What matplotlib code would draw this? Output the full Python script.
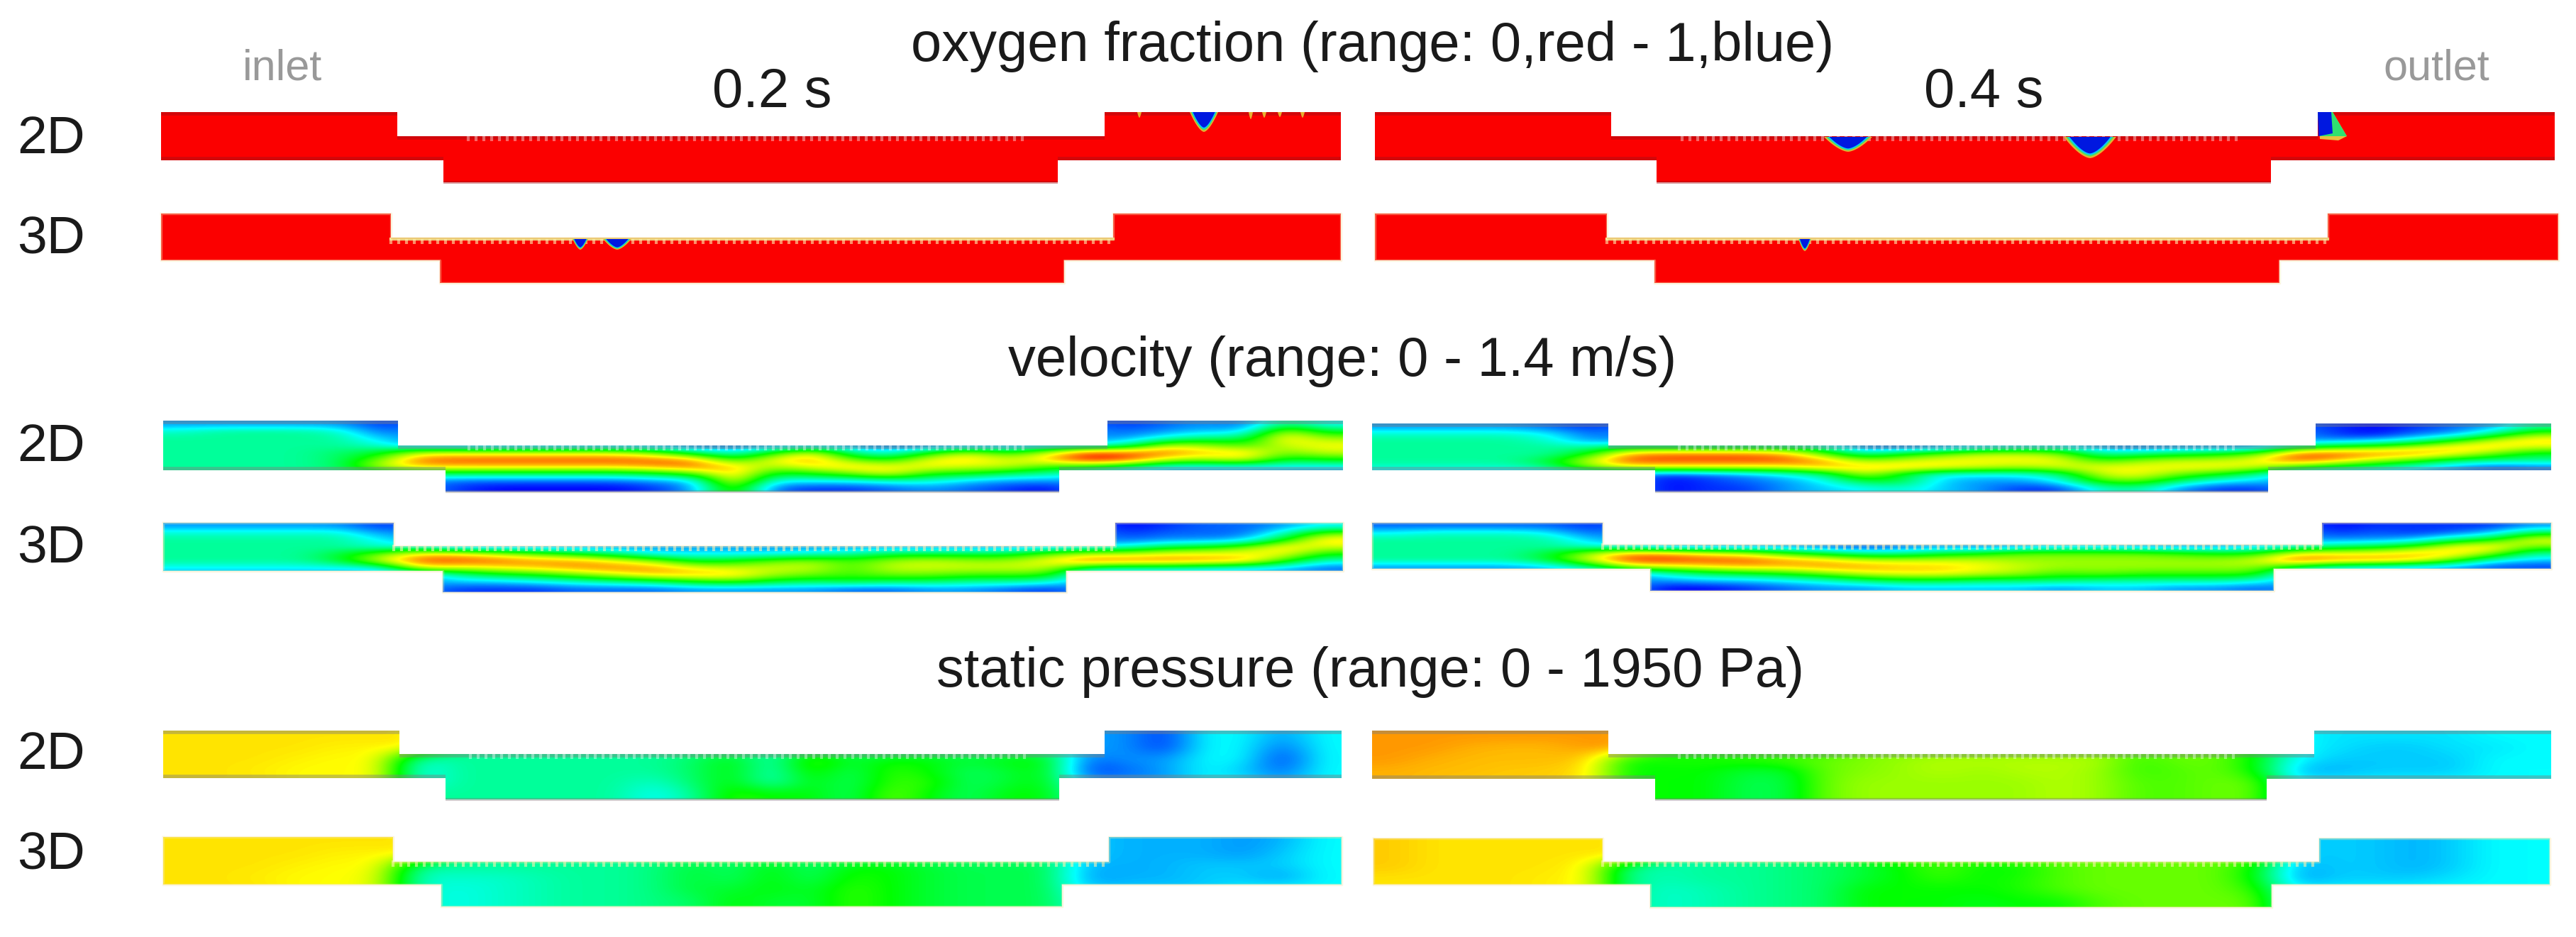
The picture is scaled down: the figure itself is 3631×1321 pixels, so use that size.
"""CFD contour comparison: 2D vs 3D channel, oxygen / velocity / pressure."""
import matplotlib
matplotlib.use('Agg')
import matplotlib.pyplot as plt
from matplotlib.colors import LinearSegmentedColormap
from matplotlib.patches import Polygon
import numpy as np

# field values, 0 = blue, 5 = cyan, 10 = green, 15 = yellow, 20 = red
vel_2d_02 = [
    [3, 3, 3, 3, 3, 1] + [2] * 18 + [1, 2, 3, 2, 8, 5],
    [6, 7, 7, 7, 6, 2] + [3] * 18 + [2, 3, 4, 4, 14, 9],
    [7, 7, 7, 7, 7, 4] + [3] * 18 + [3, 6, 8, 8, 16, 13],
    [7, 7, 7, 7, 7, 6, 3, 3, 3, 3, 3, 3, 3, 2, 2, 3, 4, 3, 2, 2, 3, 3, 4, 5, 7, 14, 13, 11, 14, 15],
    [7, 7, 7, 7, 8, 9, 14, 14, 14, 14, 14, 14, 12, 8, 5, 10, 15, 7, 5, 10, 14, 10, 14, 19, 18, 18, 16, 16, 12, 14],
    [7, 7, 7, 7, 8, 12, 18, 18.5, 18.5, 18.5, 18.5, 18.5, 18, 17, 10, 15, 17, 12, 10, 15, 16, 14, 16, 20, 19, 14, 13, 15, 9, 10],
    [7, 7, 7, 7, 8, 14, 16, 16, 16, 16, 16, 16, 17, 18, 16, 13, 15, 16, 15, 15, 14, 14, 11, 10, 8, 5, 5, 5, 5, 5],
    [7, 7, 7, 7, 7, 7, 8, 8, 8, 8, 8, 8, 9, 11, 17, 9, 10, 12, 15, 10, 10, 8, 7, 5, 3, 3, 3, 3, 3, 3],
    [3] * 7 + [2, 2, 2, 2, 2, 3, 4, 16, 5, 5, 5, 6, 6, 4, 3, 3] + [3] * 7,
    [3] * 7 + [1, 0, 0, 0, 0, 1, 3, 13, 2, 1, 1, 2, 3, 2, 1, 0] + [3] * 7,
]
vel_3d_02 = [
    [3, 3, 3, 3, 3, 1] + [2] * 18 + [0, 1, 2, 2, 3, 5],
    [6, 6, 6, 6, 6, 3] + [3] * 18 + [1, 2, 2, 2, 6, 12],
    [7, 7, 7, 7, 7, 5] + [3] * 18 + [2, 3, 3, 4, 10, 16],
    [7, 7, 7, 7, 7, 6, 6, 3, 3, 3, 3, 3, 3, 3, 3, 3, 3, 3, 3, 3, 3, 3, 4, 5, 6, 9, 10, 12, 16, 14],
    [7, 7, 7, 7, 9, 12, 16, 16, 14, 12, 10, 8, 5, 5, 5, 5, 6, 7, 9, 9, 9, 9, 12, 14, 14, 15, 15, 15, 15, 10],
    [7, 7, 7, 7, 9, 14, 18.5, 18.5, 18, 17, 17, 15, 13, 9, 10, 12, 13, 11, 13, 14, 13, 13, 15, 18, 17.5, 17.5, 17, 16.5, 11, 6],
    [5, 5, 5, 5, 5, 5, 15, 14, 15, 16, 17, 17.5, 17, 15, 14, 14, 14, 11, 14, 14, 14, 14, 14, 8, 7, 7, 6, 5, 4, 2],
    [3] * 7 + [7, 9, 10, 12, 14, 16, 16, 16, 13, 12, 11, 12, 12, 11, 11, 11] + [3] * 7,
    [3] * 7 + [4, 4, 5, 6, 7, 8, 10, 11, 9, 8, 9, 8, 8, 7, 7, 6] + [3] * 7,
    [3] * 7 + [1, 1, 1, 2, 2, 2, 3, 3, 3, 3, 2, 2, 3, 3, 2, 1] + [3] * 7,
]
vel_2d_04 = [
    [3, 3, 3, 3, 2, 1] + [2] * 18 + [1, 0, 1, 2, 3, 7],
    [6, 6, 6, 6, 5, 2] + [3] * 18 + [1, 0, 2, 3, 7, 12],
    [7, 7, 7, 7, 6, 3] + [3] * 18 + [3, 4, 6, 10, 14, 16],
    [7, 7, 7, 7, 7, 7, 9, 9, 9, 9, 9, 7, 2, 2, 3, 5, 6, 6, 3, 2, 3, 3, 3, 9, 11, 12, 14, 16, 16, 14],
    [7, 7, 7, 7, 7, 10, 17, 18, 18, 18, 17, 12, 7, 10, 12, 14, 14, 13, 7, 8, 9, 10, 12, 18.5, 18.5, 17.5, 17, 15, 12, 9],
    [7, 7, 7, 7, 9, 14, 18.5, 18.5, 18.5, 18.5, 18.5, 17, 13, 14, 15, 15, 15, 15, 11, 13, 14, 14, 15, 18, 16, 13, 11, 8, 7, 7],
    [6, 6, 6, 6, 7, 12, 14, 14, 14, 14, 14, 16, 16, 16, 15, 14, 13, 14, 15, 15, 15, 15, 14, 10, 8, 7, 5, 3, 1, 2],
    [3] * 7 + [1, 2, 3, 5, 7, 14, 9, 5, 5, 5, 7, 14, 15, 12, 10, 7] + [3] * 7,
    [3] * 7 + [0, 1, 2, 3, 5, 9, 9, 4, 3, 3, 5, 11, 12, 8, 5, 4] + [3] * 7,
    [3] * 7 + [0, 1, 1, 3, 4, 5, 6, 4, 3, 1, 1, 6, 7, 3, 1, 1] + [3] * 7,
]
vel_3d_04 = [
    [2, 2, 2, 2, 2, 1] + [2] * 18 + [0, 1, 1, 1, 1, 3],
    [5, 6, 6, 6, 5, 2] + [3] * 18 + [1, 2, 1, 2, 4, 9],
    [7, 7, 7, 7, 7, 4] + [3] * 18 + [3, 3, 4, 8, 10, 15],
    [7, 7, 7, 7, 7, 6, 5, 3, 3, 3, 3, 2, 1, 2, 3, 2, 3, 4, 4, 3, 3, 3, 4, 6, 8, 9, 11, 15, 16, 12],
    [7, 7, 7, 7, 9, 13, 17, 17, 15, 14, 11, 9, 7, 7, 9, 10, 12, 12, 12, 12, 11, 10, 10, 15, 15, 15, 16, 16, 13, 7],
    [7, 7, 7, 7, 9, 14, 19, 19, 18.5, 18.5, 17, 16, 14, 14, 14, 14, 13, 13, 13, 13, 13, 13, 14, 18.5, 17, 17, 16, 12, 6, 4],
    [3, 3, 3, 3, 4, 7, 13, 14, 15, 16, 16, 17, 17, 16, 16, 15, 14, 13, 13, 13, 13, 13, 13, 9, 6, 5, 4, 3, 1, 1],
    [3] * 7 + [6, 8, 9, 10, 12, 14, 15, 15, 14, 13, 11, 12, 11, 11, 11, 11] + [3] * 7,
    [3] * 7 + [3, 4, 4, 5, 6, 8, 9, 9, 8, 8, 8, 7, 7, 7, 7, 6] + [3] * 7,
    [3] * 7 + [0, 0, 1, 2, 3, 3, 4, 4, 4, 4, 3, 4, 4, 3, 3, 2] + [3] * 7,
]
pres_2d_02 = [
    [15.5, 15.5, 15.5, 15.5, 15.5, 15.5, 15.5, 7, 7, 7, 7, 7, 7, 7, 7, 7, 7, 7, 7, 7, 7, 7, 7, 3, 3, 1, 5, 5, 3, 5],
    [15.5, 15.5, 15.5, 15.5, 15.2, 15.2, 15.2, 7, 7, 7, 7, 7, 7, 7, 7, 7, 7, 7, 7, 7, 7, 7, 7, 3, 3, 1, 5, 5, 2, 5],
    [15.5, 15.5, 15.5, 15.2, 15, 15, 6, 7, 7, 7, 7, 7, 7, 8, 10, 6, 12, 9, 10, 10, 9, 10, 10, 2, 3, 3, 5, 5, 1, 5],
    [15.5, 15.5, 15.3, 15, 15, 15, 5, 7, 7, 7, 7, 7, 7, 8, 10, 6, 11, 8, 11, 10, 8, 9, 10, 1, 2, 3, 5, 4, 2, 5],
    [15.5, 15.5, 15.5, 15, 15, 15, 5, 7, 7, 7, 7, 7, 6, 8, 10, 6, 10, 8, 11, 11, 8, 9, 10, 3, 3, 3, 5, 5, 3, 5],
    [15, 15, 15, 15, 15, 15, 7, 7, 7, 7, 7, 7, 5, 7, 11, 10, 10, 8, 12, 10, 8, 10, 10, 5, 5, 5, 5, 5, 5, 5],
]
pres_3d_02 = [
    [15.5, 15.5, 15.5, 15.5, 15.5, 15.5, 15.5, 7, 7, 7, 7, 7, 7, 7, 7, 7, 7, 7, 7, 7, 7, 7, 7, 4, 3.5, 3.5, 3.5, 3, 3.5, 5],
    [15.5, 15.5, 15.5, 15.5, 15.2, 15.2, 15.2, 7, 7, 7, 7, 7, 7, 7, 7, 7, 7, 7, 7, 7, 7, 7, 7, 4, 3.5, 3.5, 3.5, 3, 4, 5],
    [15.5, 15.5, 15.5, 15.2, 15, 15, 7, 7, 7, 7, 7, 7, 7.5, 9, 8, 10, 8, 10, 10, 9, 8.5, 8.5, 8.5, 3.5, 3.5, 3.5, 4, 4, 4, 5],
    [15.5, 15.5, 15.3, 15, 15, 14.5, 6, 6, 6, 6.5, 7, 7, 7.5, 9, 8, 10, 8, 10.5, 10, 9, 8.5, 8.5, 8.5, 3, 3.5, 3.5, 4, 4, 3, 5],
    [15.5, 15.5, 15.5, 15, 15, 14.5, 6, 5.5, 6, 6.5, 7, 7, 7.5, 9, 9, 10, 9, 11, 10, 9, 8.5, 8.5, 8.5, 4, 4, 4, 4, 5, 5, 5],
    [15.5, 15.5, 15.5, 15, 15, 15, 6, 5.5, 6, 6.5, 7, 7, 7.5, 8, 10, 9, 9, 11, 10, 9, 8.5, 8.5, 8.5, 5, 5, 5, 5, 5, 5, 5],
]
pres_2d_04 = [
    [17, 17, 17, 17, 17, 17, 17, 10, 10, 10, 10, 10, 12, 12, 12, 12, 12, 12, 12, 12, 12, 12, 10, 5, 4.5, 4.5, 4.5, 4.5, 5, 5],
    [17, 17, 16.5, 16.3, 16.3, 17, 17, 10, 10, 10, 10, 10, 12, 12, 12, 12, 12, 12, 12, 12, 12, 12, 10, 5, 4.5, 4, 4, 4.5, 4.5, 5],
    [17, 16.5, 16.3, 16.3, 16.3, 16, 10, 10.5, 10.5, 11, 11.5, 12, 12.5, 13, 13.5, 13.5, 13.5, 13.5, 13.5, 11, 12, 12, 10, 5, 4, 4, 4, 4, 5, 5],
    [16.5, 16.3, 16.3, 16, 16, 15.5, 10, 10, 10, 9, 9, 12, 12.5, 13, 13.5, 13, 13.5, 13.5, 13, 11, 11.5, 12, 10, 3.5, 3.5, 4, 4, 4, 5, 5],
    [16.5, 16.3, 16, 16, 16, 15.5, 10, 10, 10, 8.5, 8.5, 12, 13, 13, 13, 13, 13, 13.5, 13, 11.5, 11.5, 12, 12, 5, 5, 5, 5, 5, 5, 5],
    [16.5, 16.3, 16, 16, 16, 15, 10, 10, 10, 8.5, 8.5, 12, 13, 13, 13, 13, 13, 13.5, 13, 11.5, 11.5, 12, 12, 5, 5, 5, 5, 5, 5, 5],
]
pres_3d_04 = [
    [16, 15.5, 15.5, 15.5, 15.5, 15.5, 15.5, 6.5, 7, 7, 7.5, 8, 9, 11, 11, 11, 12, 12, 12, 12, 12, 12, 12, 4, 4, 4, 3.5, 4, 5, 5],
    [16, 15.5, 15.5, 15.5, 15.5, 15.5, 15.5, 6.5, 7, 7, 7.5, 8, 9, 11, 11, 11, 12, 12, 12, 12, 12, 12, 12, 4, 4, 4, 3.5, 4, 5, 5],
    [16, 15.5, 15.5, 15.5, 15.5, 15, 7, 6.5, 7, 7, 7.5, 8, 9, 10, 11.5, 10, 10, 11.5, 12, 12, 12, 12, 10, 3.5, 4, 4, 3.5, 4, 5, 5],
    [15.5, 15.5, 15.5, 15.5, 15.3, 15, 7, 6.5, 7, 7, 7.5, 8, 9, 10, 11, 10, 10.5, 11.5, 12, 12, 12, 12, 10, 3, 4, 4, 4, 4.5, 5, 5],
    [15.5, 15.5, 15.5, 15.5, 15.3, 15, 7, 6, 6.5, 7, 7.5, 8, 10, 10, 10, 10, 10.5, 11.5, 12, 12, 12, 12, 11, 5, 5, 5, 5, 5, 5, 5],
    [15.5, 15.5, 15.5, 15.5, 15.3, 15, 7, 6, 6.5, 7, 7.5, 8, 10, 10, 10, 9.5, 10, 10, 11.5, 12, 12, 12, 12, 5, 5, 5, 5, 5, 5, 5],
]

row_labels = ['2D', '3D']
time_labels = ['0.2 s', '0.4 s']
titles = ['oxygen fraction (range: 0,red - 1,blue)',
          'velocity (range: 0 - 1.4 m/s)',
          'static pressure (range: 0 - 1950 Pa)']

# oxygen bubbles on the walls: x, wall y, half width, depth
bubbles_2d_02 = [(1697, 158, 20, 28), (1606, 158, 3, 8), (1763, 158, 3, 10), (1782, 158, 3, 8),
                 (1804, 158, 3, 7), (1836, 158, 3, 8)]
bubbles_3d_02 = [(818, 337, 11, 15), (870, 337, 20, 15)]
bubbles_2d_04 = [(2605, 193, 34, 21), (2946, 193, 37, 30)]
bubbles_3d_04 = [(2544, 337, 9, 17)]
# the one at the outlet step of the 2D run has a tail
tail_x = [3267, 3288, 3308, 3296, 3270]
tail_y = [158, 158, 192, 198, 196]

# channel outlines in pixels: x0..x5 (left, step, cavity, cavity, step, right), y0..y3
geom = {
    'oxy_2d_02': ((227, 560, 625, 1491, 1557, 1890), (158, 192, 226, 257)),
    'oxy_3d_02': ((227, 551, 620, 1500, 1569, 1890), (301, 337, 367, 399)),
    'oxy_2d_04': ((1938, 2271, 2335, 3201, 3267, 3601), (158, 192, 226, 257)),
    'oxy_3d_04': ((1938, 2265, 2332, 3213, 3281, 3606), (301, 337, 367, 399)),
    'vel_2d_02': ((230, 561, 628, 1493, 1561, 1893), (593, 628, 663, 693)),
    'vel_3d_02': ((230, 555, 624, 1503, 1572, 1893), (737, 770, 805, 835)),
    'vel_2d_04': ((1934, 2267, 2333, 3197, 3264, 3596), (597, 628, 663, 693)),
    'vel_3d_04': ((1934, 2259, 2326, 3205, 3273, 3596), (737, 768, 802, 833)),
    'pres_2d_02': ((230, 563, 628, 1493, 1557, 1891), (1030, 1063, 1097, 1127)),
    'pres_3d_02': ((230, 554, 622, 1497, 1563, 1891), (1180, 1215, 1247, 1278)),
    'pres_2d_04': ((1934, 2267, 2333, 3195, 3262, 3596), (1030, 1063, 1098, 1127)),
    'pres_3d_04': ((1936, 2259, 2326, 3202, 3269, 3594), (1182, 1215, 1247, 1279)),
}

plt.rcParams['font.family'] = ['Liberation Sans', 'DejaVu Sans']
rainbow = LinearSegmentedColormap.from_list(
    'fluent', ['#0000ff', '#00ffff', '#00ff00', '#ffff00', '#ff0000'])
band_cols = ['#e8b030', '#50e060', '#00c8ff', '#0018e0']

fig = plt.figure(figsize=(36.31, 13.21), dpi=100)
ax = fig.add_axes([0, 0, 1, 1])


def outline(xs, ys):
    return [(xs[0], ys[0]), (xs[1], ys[0]), (xs[1], ys[1]), (xs[4], ys[1]), (xs[4], ys[0]),
            (xs[5], ys[0]), (xs[5], ys[2]), (xs[3], ys[2]), (xs[3], ys[3]), (xs[2], ys[3]),
            (xs[2], ys[2]), (xs[0], ys[2]), (xs[0], ys[0])]


def bubble_shape(bx, by, hw, depth):
    # flat on the wall, narrowing to a rounded tip
    t = np.linspace(-1, 1, 25)
    return np.column_stack([bx + hw * t, by + depth * (1 - np.abs(t) ** 1.6)])


def draw_panel(name, field=None, is_2d=True, bubbles=()):
    xs, ys = geom[name]
    pts = outline(xs, ys)
    clip = Polygon(pts, closed=True, transform=ax.transData, facecolor='none', edgecolor='none')
    ax.add_patch(clip)
    if field is None:
        ax.add_patch(Polygon(pts, closed=True, facecolor='#fb0000', edgecolor='none', zorder=1))
    else:
        im = ax.imshow(np.array(field, dtype=float), cmap=rainbow, vmin=0, vmax=20,
                       extent=(xs[0], xs[5], ys[3], ys[0]), aspect='auto',
                       interpolation='bicubic', zorder=1)
        im.set_clip_path(clip)

    # serrated upper wall of the middle section
    if is_2d:
        t0, t1 = xs[1] + 100, xs[4] - 108
    else:
        t0, t1 = xs[1], xs[4]
    teeth = np.arange(t0, t1, 11)
    if field is None and not is_2d:
        ax.plot([xs[1], xs[4]], [ys[1], ys[1]], color='#e8c060', lw=3, zorder=3)
    tcol = '#ffffff' if is_2d else '#fff0b0'
    t_lines = ax.vlines(teeth, ys[1] - 2, ys[1] + 7, color=tcol, lw=3,
                        alpha=0.4 if is_2d else 0.6, zorder=4)
    t_lines.set_clip_path(clip)

    # darker band just inside the horizontal walls of the 2D runs
    band = '#a01018' if field is None else '#808080'
    segs = [(xs[0], xs[1], ys[0]), (xs[4], xs[5], ys[0]), (xs[1], xs[4], ys[1]),
            (xs[0], xs[2], ys[2]), (xs[3], xs[5], ys[2])]
    if is_2d:
        for a, b, y in segs:
            ln, = ax.plot([a, b], [y, y], color=band, lw=7, alpha=0.45, zorder=3,
                          solid_capstyle='butt')
            ln.set_clip_path(clip)
        ax.plot([xs[2], xs[3]], [ys[3], ys[3]], color=band, lw=3, alpha=0.4, zorder=3,
                solid_capstyle='butt')
    else:
        px, py = zip(*pts)
        ax.plot(px, py, color='#f6e6b0', lw=2.5, alpha=0.4, zorder=3)

    # bubbles of oxygen, nested colour bands
    for bx, by, hw, depth in bubbles:
        for scale, col in zip([1.0, 0.92, 0.85, 0.78], band_cols):
            if hw < 5 and scale < 1.0:
                continue
            ax.add_patch(Polygon(bubble_shape(bx, by, hw * scale, depth * scale), closed=True,
                                 facecolor=col, edgecolor='none', zorder=5))


draw_panel('oxy_2d_02', None, True, bubbles_2d_02)
draw_panel('oxy_3d_02', None, False, bubbles_3d_02)
draw_panel('oxy_2d_04', None, True, bubbles_2d_04)
draw_panel('oxy_3d_04', None, False, bubbles_3d_04)
draw_panel('vel_2d_02', vel_2d_02, True)
draw_panel('vel_3d_02', vel_3d_02, False)
draw_panel('vel_2d_04', vel_2d_04, True)
draw_panel('vel_3d_04', vel_3d_04, False)
draw_panel('pres_2d_02', pres_2d_02, True)
draw_panel('pres_3d_02', pres_3d_02, False)
draw_panel('pres_2d_04', pres_2d_04, True)
draw_panel('pres_3d_04', pres_3d_04, False)

# bubble at the outlet step, 0.4 s, 2D
ax.add_patch(Polygon(np.column_stack([tail_x, tail_y]), closed=True, facecolor='#e8c040',
                     edgecolor='none', zorder=5))
ax.add_patch(Polygon(np.column_stack([tail_x[:3] + [3270], tail_y[:3] + [192]]), closed=True,
                     facecolor='#30e070', edgecolor='none', zorder=5))
ax.add_patch(Polygon(np.column_stack([[3267, 3286, 3288, 3268], [158, 158, 188, 192]]), closed=True,
                     facecolor='#0018e0', edgecolor='none', zorder=6))

ax.set_xlim(0, 3631)
ax.set_ylim(1321, 0)
ax.axis('off')

# titles
for title, tx, ty in zip(titles, [1935, 1892, 1932], [66, 509, 947]):
    ax.text(tx, ty, title, ha='center', va='center', fontsize=56, color='#1a1a1a')
for lab, tx in zip(time_labels, [1088, 2796]):
    ax.text(tx, 131, lab, ha='center', va='center', fontsize=56, color='#1a1a1a')

# row labels
for group_y in [(196, 338), (631, 774), (1064, 1206)]:
    for lab, ly in zip(row_labels, group_y):
        ax.text(72, ly, lab, ha='center', va='center', fontsize=54, color='#1a1a1a')

ax.text(398, 97, 'inlet', ha='center', va='center', fontsize=44, color='#999999')
ax.text(3434, 97, 'outlet', ha='center', va='center', fontsize=44, color='#999999')

fig.savefig('out.png', dpi=100, facecolor='white')
plt.close(fig)
